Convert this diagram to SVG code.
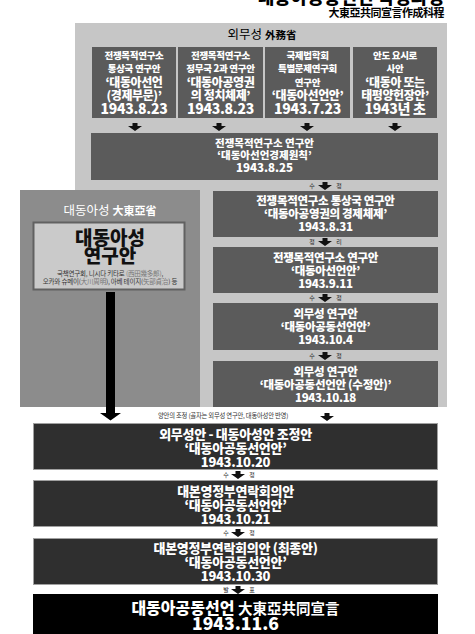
<svg xmlns="http://www.w3.org/2000/svg" width="475" height="634" viewBox="0 0 475 634">
<style>
text{font-family:"Noto Sans CJK KR","Noto Sans",sans-serif;text-anchor:middle}
.w{fill:#fff;font-weight:900}
.s{font-size:9.5px;letter-spacing:-0.3px}
.b{font-size:12px;letter-spacing:-0.4px}
.d{font-size:14px;letter-spacing:-0.3px}
.r{font-size:11.5px;letter-spacing:-0.3px}
.m{font-size:13px;letter-spacing:-0.3px}
.lbl{font-size:6px;fill:#222}
.dk{fill:#5b5b5b}
.bk{fill:#2f2f2f;stroke:#a0a0a0;stroke-width:1}
</style>
<defs>
<path id="arr" d="M-2.5,-4 h5 v3 h4.5 l-7,5 l-7,-5 h4.5 z" fill="#111"/>
</defs>
<rect width="475" height="634" fill="#fff"/>
<g id="title">
<text x="444" y="4" style="font-size:18px;font-weight:900;text-anchor:end">대동아공동선언 작성과정</text>
<text x="444" y="16.5" style="font-size:11px;font-weight:700;text-anchor:end;letter-spacing:-0.5px">大東亞共同宣言作成科程</text>
</g>
<g id="mofa">
<rect x="75" y="23" width="372" height="384" fill="#c6c6c6"/>
<text x="262" y="39" style="font-size:12.5px">외무성 <tspan style="font-size:10.5px;font-weight:700">外務省</tspan></text>
</g>
<g id="n1">
<rect class="dk" x="92" y="47" width="84" height="71"/>
<text class="w s" x="134" y="59">전쟁목적연구소</text>
<text class="w s" x="134" y="72">통상국 연구안</text>
<text class="w b" x="134" y="87">‘대동아선언</text>
<text class="w b" x="134" y="100">(경제부문)’</text>
<text class="w d" x="134" y="114">1943.8.23</text>
</g>
<g id="n2">
<rect class="dk" x="178" y="47" width="85" height="71"/>
<text class="w s" x="220.5" y="59">전쟁목적연구소</text>
<text class="w s" x="220.5" y="72">정무국 2과 연구안</text>
<text class="w b" x="220.5" y="87">‘대동아공영권</text>
<text class="w b" x="220.5" y="100">의 정치체제’</text>
<text class="w d" x="220.5" y="114">1943.8.23</text>
</g>
<g id="n3">
<rect class="dk" x="265" y="47" width="85" height="71"/>
<text class="w s" x="307.5" y="59">국제법학회</text>
<text class="w s" x="307.5" y="72">특별문제연구회</text>
<text class="w s" x="307.5" y="86">연구안</text>
<text class="w b" x="307.5" y="100">‘대동아선언안’</text>
<text class="w d" x="307.5" y="114">1943.7.23</text>
</g>
<g id="n4">
<rect class="dk" x="353" y="47" width="84" height="71"/>
<text class="w s" x="395" y="59">안도 요시로</text>
<text class="w s" x="395" y="72">사안</text>
<text class="w b" x="395" y="87">‘대동아 또는</text>
<text class="w b" x="395" y="100">태평양헌장안’</text>
<text class="w d" x="395" y="114">1943년 초</text>
</g>
<g id="n5">
<rect class="dk" x="91" y="133" width="347" height="47"/>
<text class="w" x="264.5" y="147" style="font-size:10.5px">전쟁목적연구소 연구안</text>
<text class="w" x="264.5" y="159" style="font-size:10.5px">‘대동아선언경제원칙’</text>
<text class="w" x="264.5" y="172" style="font-size:11.5px">1943.8.25</text>
</g>
<g id="gea">
<rect x="20" y="190" width="180" height="217" fill="#8c8c8c"/>
<text x="110" y="215" style="font-size:12.5px;fill:#fff">대동아성 <tspan style="font-size:11px;font-weight:700">大東亞省</tspan></text>
<rect x="33.5" y="222.5" width="151" height="67" fill="#cacaca" stroke="#616161" stroke-width="2"/>
<text x="110" y="245" style="font-size:19px;font-weight:900;fill:#111">대동아성</text>
<text x="110" y="263" style="font-size:19px;font-weight:900;fill:#111">연구안</text>
<text x="110" y="275.5" style="font-size:6.5px;fill:#333;letter-spacing:-0.2px">국책연구회, 니시다 키타로 <tspan fill="#777">(西田幾多郞)</tspan>,</text>
<text x="110" y="284" style="font-size:6.5px;fill:#333;letter-spacing:-0.2px">오카와 슈메이(<tspan fill="#777">大川周明</tspan>), 아베 테이지(<tspan fill="#777">矢部貞治</tspan>) 등</text>
</g>
<g id="n6">
<rect class="dk" x="213" y="191" width="225" height="46"/>
<text class="w r" x="325.5" y="205">전쟁목적연구소 통상국 연구안</text>
<text class="w r" x="325.5" y="218">‘대동아공영권의 경제체제’</text>
<text class="w r" x="325.5" y="231">1943.8.31</text>
</g>
<g id="n7">
<rect class="dk" x="213" y="247" width="225" height="46"/>
<text class="w r" x="325.5" y="262">전쟁목적연구소 연구안</text>
<text class="w r" x="325.5" y="275">‘대동아선언안’</text>
<text class="w r" x="325.5" y="288">1943.9.11</text>
</g>
<g id="n8">
<rect class="dk" x="213" y="303" width="225" height="47"/>
<text class="w r" x="325.5" y="318">외무성 연구안</text>
<text class="w r" x="325.5" y="331">‘대동아공동선언안’</text>
<text class="w r" x="325.5" y="344">1943.10.4</text>
</g>
<g id="n9">
<rect class="dk" x="213" y="361" width="225" height="46"/>
<text class="w r" x="325.5" y="376">외무성 연구안</text>
<text class="w r" x="325.5" y="389">‘대동아공동선언안 (수정안)’</text>
<text class="w r" x="325.5" y="402">1943.10.18</text>
</g>
<g id="n10">
<rect class="bk" x="33.5" y="423.5" width="404" height="46"/>
<text class="w m" x="235.5" y="438.5">외무성안 - 대동아성안 조정안</text>
<text class="w m" x="235.5" y="453">‘대동아공동선언안’</text>
<text class="w m" x="235.5" y="467">1943.10.20</text>
</g>
<g id="n11">
<rect class="bk" x="33.5" y="480.5" width="404" height="46"/>
<text class="w m" x="235.5" y="495.5">대본영정부연락회의안</text>
<text class="w m" x="235.5" y="510">‘대동아공동선언안’</text>
<text class="w m" x="235.5" y="524">1943.10.21</text>
</g>
<g id="n12">
<rect class="bk" x="33.5" y="538.5" width="404" height="46"/>
<text class="w m" x="235.5" y="553">대본영정부연락회의안 (최종안)</text>
<text class="w m" x="235.5" y="567">‘대동아공동선언안’</text>
<text class="w m" x="235.5" y="581">1943.10.30</text>
</g>
<g id="n13">
<rect x="33" y="594" width="405" height="40" fill="#000"/>
<text class="w" x="235.5" y="614" style="font-size:16px">대동아공동선언 <tspan style="font-size:14.5px;font-weight:700">大東亞共同宣言</tspan></text>
<text class="w" x="235.5" y="630" style="font-size:17.5px">1943.11.6</text>
</g>
<g id="connectors">
<use href="#arr" x="135" y="127"/>
<use href="#arr" x="219" y="127"/>
<use href="#arr" x="307" y="127"/>
<use href="#arr" x="395" y="127"/>
<use href="#arr" x="325" y="186"/>
<text class="lbl" x="312" y="188">수</text><text class="lbl" x="339" y="188">정</text>
<use href="#arr" x="325" y="242"/>
<text class="lbl" x="312" y="244">정</text><text class="lbl" x="339" y="244">리</text>
<use href="#arr" x="325" y="298"/>
<text class="lbl" x="312" y="300">수</text><text class="lbl" x="339" y="300">정</text>
<use href="#arr" x="325" y="356"/>
<text class="lbl" x="312" y="358">수</text><text class="lbl" x="339" y="358">정</text>
<path d="M106,292 h9 v121 h6 l-10.5,7.5 l-10.5,-7.5 h6 z" fill="#000"/>
<text x="158" y="417.5" style="font-size:6.3px;fill:#333;text-anchor:start;letter-spacing:-0.2px">양안의 조정 (골자는 외무성 연구안, 대동아성안 반영)</text>
<use href="#arr" x="327" y="417"/>
<use href="#arr" x="238" y="475"/>
<text class="lbl" x="226" y="477">수</text><text class="lbl" x="252" y="477">정</text>
<use href="#arr" x="238" y="533"/>
<text class="lbl" x="226" y="535">수</text><text class="lbl" x="252" y="535">정</text>
<use href="#arr" x="238" y="590"/>
<text class="lbl" x="226" y="592">발</text><text class="lbl" x="252" y="592">표</text>
</g>
</svg>
